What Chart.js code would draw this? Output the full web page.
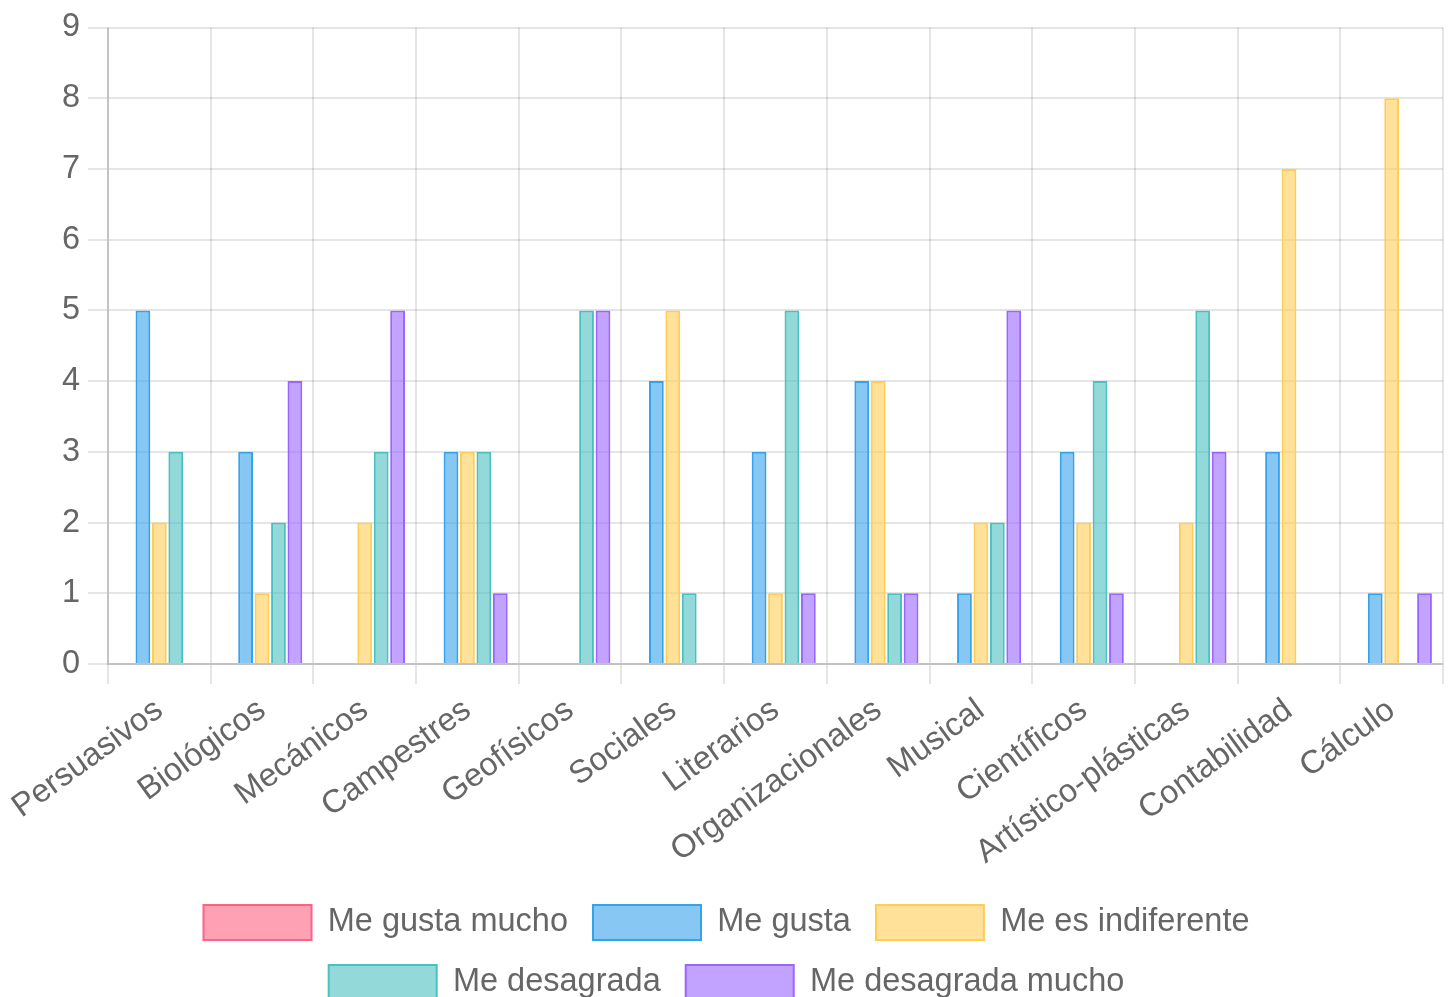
<!DOCTYPE html>
<html>
<head>
<meta charset="utf-8">
<script src="https://cdn.jsdelivr.net/npm/chart.js@4.4.1/dist/chart.umd.min.js"></script>
<style>
  html, body { margin: 0; padding: 0; background: #fff; overflow: hidden; }
  #wrap { width: 1451px; height: 1010px; position: relative; }
</style>
</head>
<body>
<div id="wrap"><canvas id="interesesChart"></canvas></div>
<script>
const categories = ['Persuasivos', 'Biológicos', 'Mecánicos', 'Campestres', 'Geofísicos', 'Sociales',
  'Literarios', 'Organizacionales', 'Musical', 'Científicos', 'Artístico-plásticas', 'Contabilidad', 'Cálculo'];

const meGustaMucho     = [0, 0, 0, 0, 0, 0, 0, 0, 0, 0, 0, 0, 0];
const meGusta          = [5, 3, 0, 3, 0, 4, 3, 4, 1, 3, 0, 3, 1];
const meEsIndiferente  = [2, 1, 2, 3, 0, 5, 1, 4, 2, 2, 2, 7, 8];
const meDesagrada      = [3, 2, 3, 3, 5, 1, 5, 1, 2, 4, 5, 0, 0];
const meDesagradaMucho = [0, 4, 5, 1, 5, 0, 1, 1, 5, 1, 3, 0, 1];

const yTicks = [0, 1, 2, 3, 4, 5, 6, 7, 8, 9];

document.addEventListener('DOMContentLoaded', function () {
  const canvas = document.getElementById('interesesChart');
  if (!canvas) return;
  const ctx = canvas.getContext('2d');

  Chart.defaults.font.family = '"Liberation Sans", Arial, Helvetica, sans-serif';
  Chart.defaults.font.size = 32.5;
  Chart.defaults.color = '#666';

  function ds(label, data, r, g, b) {
    return {
      label: label,
      data: data,
      backgroundColor: `rgba(${r}, ${g}, ${b}, 0.6)`,
      borderColor: `rgb(${r}, ${g}, ${b})`,
      borderWidth: 2
    };
  }

  new Chart(ctx, {
    type: 'bar',
    data: {
      labels: categories,
      datasets: [
        ds('Me gusta mucho', meGustaMucho, 255, 99, 132),
        ds('Me gusta', meGusta, 54, 162, 235),
        ds('Me es indiferente', meEsIndiferente, 255, 205, 86),
        ds('Me desagrada', meDesagrada, 75, 192, 192),
        ds('Me desagrada mucho', meDesagradaMucho, 153, 102, 255)
      ]
    },
    options: {
      responsive: true,
      maintainAspectRatio: false,
      animation: false,
      devicePixelRatio: 1,
      layout: { padding: { left: 10, right: 8 } },
      scales: {
        x: {
          grid: { color: 'rgba(0,0,0,0.1)', lineWidth: 2, tickLength: 20 },
          border: { color: 'rgba(0,0,0,0.15)', width: 2 },
          ticks: { minRotation: 36, maxRotation: 36, padding: 7 },
          afterFit: function (axis) { axis.height = 216; }
        },
        y: {
          min: 0,
          max: yTicks[yTicks.length - 1],
          grid: { color: 'rgba(0,0,0,0.1)', lineWidth: 2, tickLength: 20 },
          border: { color: 'rgba(0,0,0,0.15)', width: 2 },
          afterBuildTicks: function (axis) {
            axis.ticks = yTicks.map(v => ({ value: v }));
          },
          afterFit: function (axis) { axis.width = 98; },
          ticks: { padding: 8 }
        }
      },
      plugins: {
        legend: {
          position: 'bottom',
          maxWidth: 1200,
          labels: {
            boxWidth: 108,
            boxHeight: 35,
            padding: 25
          }
        },
        tooltip: { enabled: false }
      }
    }
  });
});
</script>
</body>
</html>
